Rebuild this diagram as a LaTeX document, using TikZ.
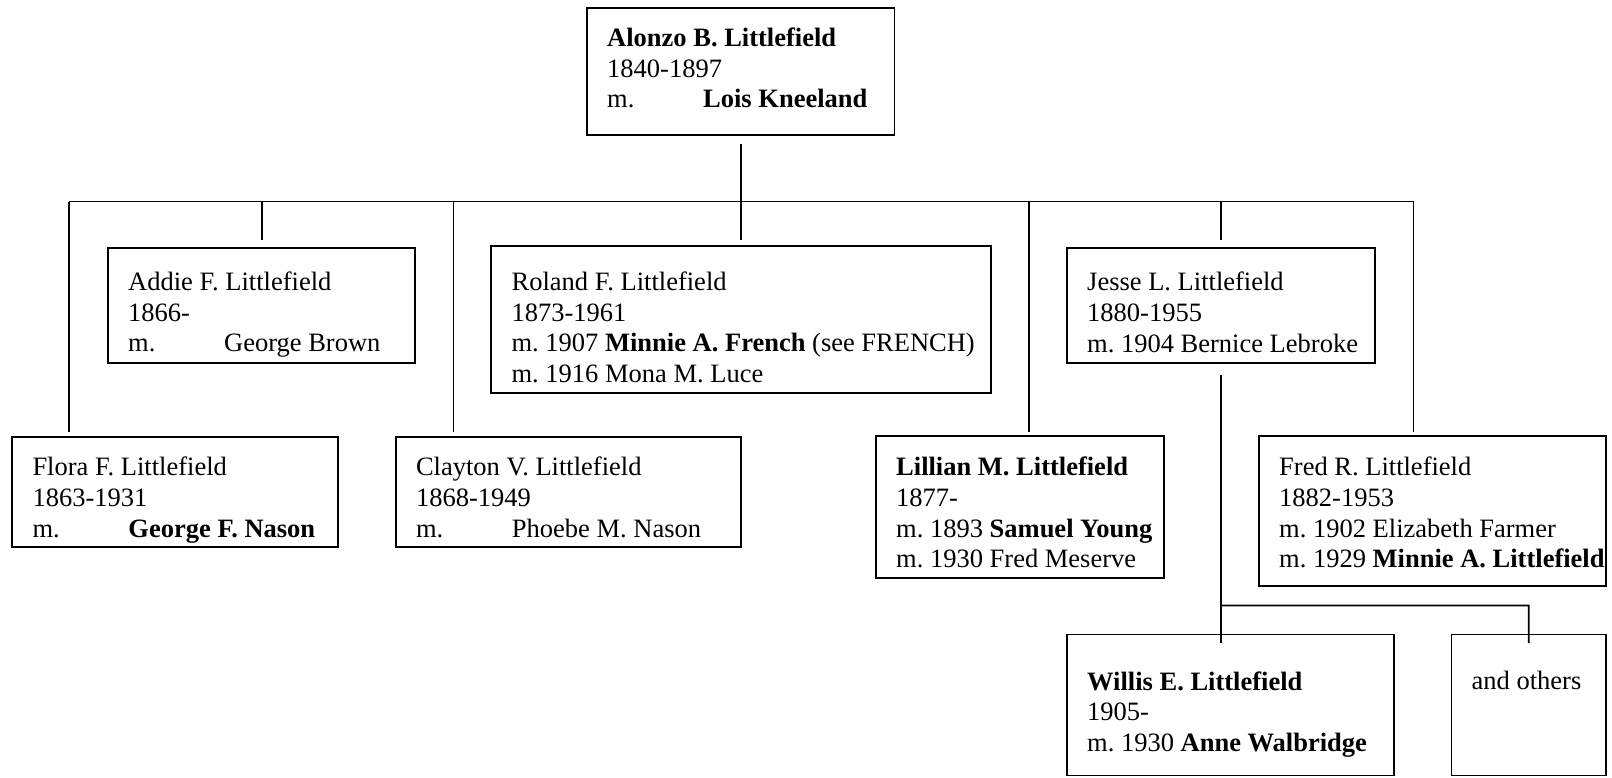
\documentclass[tikz,border=0pt]{standalone}
\usepackage{fontspec}
\setmainfont{Liberation Serif}
\frenchspacing
\usetikzlibrary{positioning}
\tikzset{
  persbox/.style={draw, line width=1.9pt, inner sep=0pt, outer sep=0pt, anchor=north west},
  perstxt/.style={anchor=north west, inner sep=0pt, align=left, font=\fontsize{26.5}{30.7}\selectfont},
  famln/.style={line width=1.7pt},
}
\newcommand{\mtab}{\makebox[96pt][l]{m.}}

\begin{document}
\begin{tikzpicture}[x=1pt,y=1pt]
    \useasboundingbox (0,0) rectangle (1612,-777);
    % parents
    \node[persbox, minimum width=307.5, minimum height=126.5] (alonzo) at (587,-8.2) {};
    \node[perstxt] (alonzo-t) at ([shift={(20,-19.4)}]alonzo.north west)
      {\textbf{Alonzo B. Littlefield}\\1840-1897\\\mtab\textbf{Lois Kneeland}};
    % children, upper row
    \node[persbox, minimum width=307.4, minimum height=115.2] (addie) at (108,-247.8) {};
    \node[perstxt] (addie-t) at ([shift={(20,-23.9)}]addie.north west)
      {Addie F. Littlefield\\1866-\\\mtab George Brown};
    \node[persbox, minimum width=499.6, minimum height=147] (roland) at (491.4,-245.7) {};
    \node[perstxt] (roland-t) at ([shift={(20,-25.9)}]roland.north west)
      {Roland F. Littlefield\\1873-1961\\m. 1907 \textbf{Minnie A. French} (see FRENCH)\\m. 1916 Mona M. Luce};
    \node[persbox, minimum width=307.6, minimum height=115] (jesse) at (1067,-248) {};
    \node[perstxt] (jesse-t) at ([shift={(20,-23.9)}]jesse.north west)
      {Jesse L. Littlefield\\1880-1955\\m. 1904 Bernice Lebroke};
    % children, lower row
    \node[persbox, minimum width=325.9, minimum height=110] (flora) at (12.3,-437) {};
    \node[perstxt] (flora-t) at ([shift={(20,-19.9)}]flora.north west)
      {Flora F. Littlefield\\1863-1931\\\mtab\textbf{George F. Nason}};
    \node[persbox, minimum width=345.5, minimum height=110] (clayton) at (395.8,-437) {};
    \node[perstxt] (clayton-t) at ([shift={(20,-19.9)}]clayton.north west)
      {Clayton V. Littlefield\\1868-1949\\\mtab Phoebe M. Nason};
    \node[persbox, minimum width=288, minimum height=142] (lillian) at (876,-436) {};
    \node[perstxt] (lillian-t) at ([shift={(20,-20.9)}]lillian.north west)
      {\textbf{Lillian M. Littlefield}\\1877-\\m. 1893 \textbf{Samuel Young}\\m. 1930 Fred Meserve};
    \node[persbox, minimum width=347, minimum height=150] (fred) at (1259,-436) {};
    \node[perstxt] (fred-t) at ([shift={(20,-20.9)}]fred.north west)
      {Fred R. Littlefield\\1882-1953\\m. 1902 Elizabeth Farmer\\m. 1929 \textbf{Minnie A. Littlefield}};
    % grandchildren
    \node[persbox, minimum width=327, minimum height=141] (willis) at (1067,-634.5) {};
    \node[perstxt] (willis-t) at ([shift={(20,-36.9)}]willis.north west)
      {\textbf{Willis E. Littlefield}\\1905-\\m. 1930 \textbf{Anne Walbridge}};
    \node[persbox, minimum width=154.5, minimum height=141] (others) at (1451.5,-634.5) {};
    \node[perstxt] (others-t) at ([shift={(20,-36.9)}]others.north west) {and others};
    % family lines
    \coordinate (busL) at (68.9,-201.5);
    \coordinate (busB) at (453.4,-201.5);
    \coordinate (busD) at (1029,-201.5);
    \coordinate (busR) at (1413.6,-201.5);
    \coordinate (kidR) at (1528.8,-605.5);
    \draw[famln] ([yshift=-9.3]alonzo.south) -- (alonzo.south |- busL);
    \draw[famln] (busL) -- (busR);
    \draw[famln] (addie.north |- busL) -- ([yshift=8.3]addie.north);
    \draw[famln] (roland.north |- busL) -- ([yshift=6.2]roland.north);
    \draw[famln] (jesse.north |- busL) -- ([yshift=8.5]jesse.north);
    \draw[famln] (busL) -- ([yshift=5.2]flora.north -| busL);
    \draw[famln] (busB) -- ([yshift=5.2]clayton.north -| busB);
    \draw[famln] (busD) -- ([yshift=4.2]lillian.north -| busD);
    \draw[famln] (busR) -- ([yshift=4.2]fred.north -| busR);
    \draw[famln] ([yshift=-12]jesse.south) -- ([yshift=-8.5]willis.north -| jesse.south);
    \draw[famln] (jesse.south |- kidR) -- (kidR) -- ([yshift=-8.5]others.north);
\end{tikzpicture}
\end{document}
